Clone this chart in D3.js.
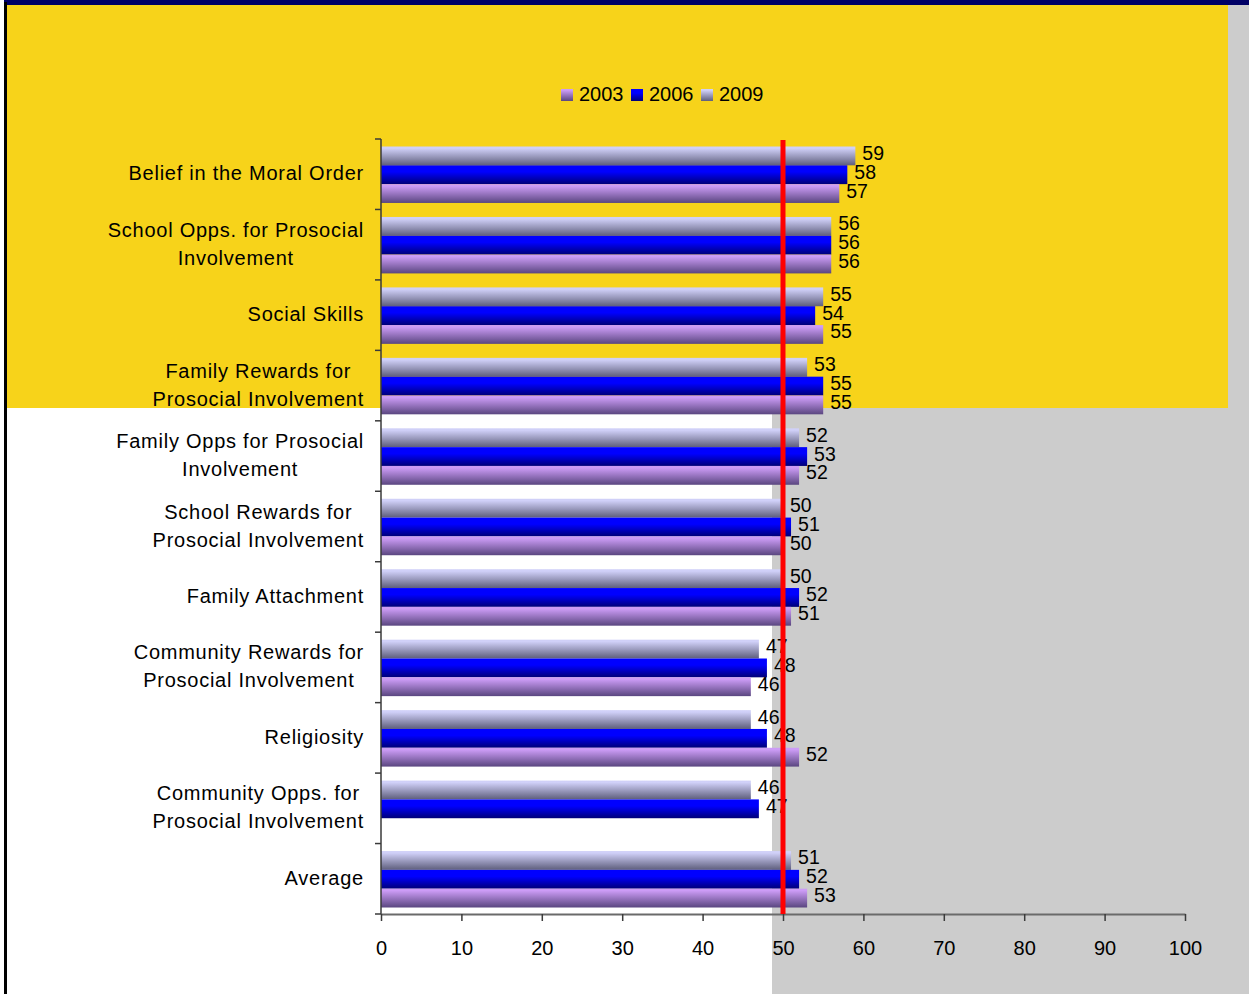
<!DOCTYPE html>
<html><head><meta charset="utf-8">
<script src="https://cdn.jsdelivr.net/npm/d3@7"></script>
<style>html,body{margin:0;padding:0;background:#fff;}svg{display:block;font-family:Arial,"Liberation Sans",sans-serif;}</style>
</head><body><svg id="c" width="1249" height="994"></svg>
<script>
const categories = [
  "Belief in the Moral Order",
  "School Opps. for Prosocial|Involvement",
  "Social Skills",
  "Family Rewards for|Prosocial Involvement",
  "Family Opps for Prosocial|Involvement",
  "School Rewards for|Prosocial Involvement",
  "Family Attachment",
  "Community Rewards for|Prosocial Involvement",
  "Religiosity",
  "Community Opps. for|Prosocial Involvement",
  "Average"
];
const seriesNames = ["2009", "2006", "2003"];
const values2009 = [59, 56, 55, 53, 52, 50, 50, 47, 46, 46, 51];
const values2006 = [58, 56, 54, 55, 53, 51, 52, 48, 48, 47, 52];
const values2003 = [57, 56, 55, 55, 52, 50, 51, 46, 52, null, 53];
const xTicks = [0, 10, 20, 30, 40, 50, 60, 70, 80, 90, 100];
const referenceValue = 50;
const legendOrder = ["2003", "2006", "2009"];

const svg = d3.select("#c");
const defs = svg.append("defs");
const grads = {
  "2009": ["#d0d0f8", "#5e5e7c"],
  "2006": ["#0000ff", "#000078"],
  "2003": ["#cc9cf6", "#5a4680"]
};
Object.entries(grads).forEach(([k, c]) => {
  const g = defs.append("linearGradient").attr("id", "g" + k).attr("x1", 0).attr("y1", 0).attr("x2", 0).attr("y2", 1);
  g.append("stop").attr("offset", "0%").attr("stop-color", c[0]);
  g.append("stop").attr("offset", k === "2006" ? "35%" : "10%").attr("stop-color", c[0]);
  g.append("stop").attr("offset", "100%").attr("stop-color", c[1]);
});

// backgrounds
svg.append("rect").attr("x", 0).attr("y", 0).attr("width", 1249).attr("height", 994).attr("fill", "#ffffff");
svg.append("rect").attr("x", 7).attr("y", 5).attr("width", 1221).attr("height", 403).attr("fill", "#f7d31a");
svg.append("rect").attr("x", 1228).attr("y", 5).attr("width", 21).attr("height", 403).attr("fill", "#cccccc");
svg.append("rect").attr("x", 772).attr("y", 408).attr("width", 477).attr("height", 586).attr("fill", "#cccccc");
svg.append("rect").attr("x", 4).attr("y", 0).attr("width", 1245).attr("height", 5).attr("fill", "#000066");
svg.append("rect").attr("x", 4).attr("y", 2).attr("width", 3).attr("height", 992).attr("fill", "#000000");

const x = d3.scaleLinear().domain([0, 100]).range([381, 1185]);
const y = d3.scaleBand().domain(d3.range(categories.length)).range([139, 914]).padding(0);
const bw = y.bandwidth();
const inner = d3.scaleBand().domain(seriesNames).range([7.5, bw - 6.5]).padding(0);

const seriesVals = {"2009": values2009, "2006": values2006, "2003": values2003};

const g = svg.append("g");
seriesNames.forEach(s => {
  seriesVals[s].forEach((v, i) => {
    if (v == null) return;
    const y0 = y(i) + inner(s);
    g.append("rect").attr("x", x(0)).attr("y", y0).attr("width", x(v) - x(0)).attr("height", inner.bandwidth())
      .attr("fill", `url(#g${s})`);
  });
});
seriesNames.forEach(s => {
  seriesVals[s].forEach((v, i) => {
    if (v == null) return;
    const yc = y(i) + inner(s) + inner.bandwidth() / 2;
    g.append("text").attr("x", x(v) + 7).attr("y", yc + 4).attr("font-size", 19.5).attr("fill", "#000").text(v);
  });
});

// x axis
const xAxis = svg.append("g").attr("transform", "translate(0,914)")
  .call(d3.axisBottom(x).tickValues(xTicks).tickSize(7).tickPadding(0).tickSizeOuter(0));
xAxis.select(".domain").attr("stroke", "#6a6a6a").attr("stroke-width", 2);
xAxis.selectAll(".tick line").attr("stroke", "#3a3a3a").attr("stroke-width", 1.5);
xAxis.selectAll(".tick text").attr("font-size", 20).attr("font-family", "Arial, 'Liberation Sans', sans-serif")
  .attr("fill", "#000").attr("dy", null).attr("y", 41);

// y axis
const yAxisG = svg.append("g");
yAxisG.append("line").attr("x1", 381).attr("x2", 381).attr("y1", 139).attr("y2", 914).attr("stroke", "#3a3a3a").attr("stroke-width", 1.5);
d3.range(categories.length + 1).forEach(i => {
  const yy = i < categories.length ? y(i) : 914;
  yAxisG.append("line").attr("x1", 375).attr("x2", 381).attr("y1", yy).attr("y2", yy).attr("stroke", "#3a3a3a").attr("stroke-width", 1.5);
});

// category labels
categories.forEach((c, i) => {
  const lines = c.split("|");
  const yc = y(i) + bw / 2;
  const t = svg.append("g");
  const texts = lines.map((ln, j) => t.append("text").attr("font-size", 20).attr("letter-spacing", "0.75px")
    .attr("fill", "#000").attr("text-anchor", "middle")
    .attr("y", yc + 6 + (j - (lines.length - 1) / 2) * 28).text(ln));
  const w = d3.max(texts, tt => tt.node().getComputedTextLength());
  texts.forEach(tt => tt.attr("x", 364 - w / 2));
});

// reference line
svg.append("line").attr("x1", x(referenceValue)).attr("x2", x(referenceValue)).attr("y1", 140).attr("y2", 914)
  .attr("stroke", "#ff0000").attr("stroke-width", 5);

// legend
const legendX = {"2003": 561, "2006": 631, "2009": 701};
legendOrder.forEach(s => {
  const lx = legendX[s];
  svg.append("rect").attr("x", lx).attr("y", 89).attr("width", 12).attr("height", 12).attr("fill", `url(#g${s})`);
  svg.append("text").attr("x", lx + 18).attr("y", 101).attr("font-size", 20).attr("fill", "#000").text(s);
});
</script></body></html>
